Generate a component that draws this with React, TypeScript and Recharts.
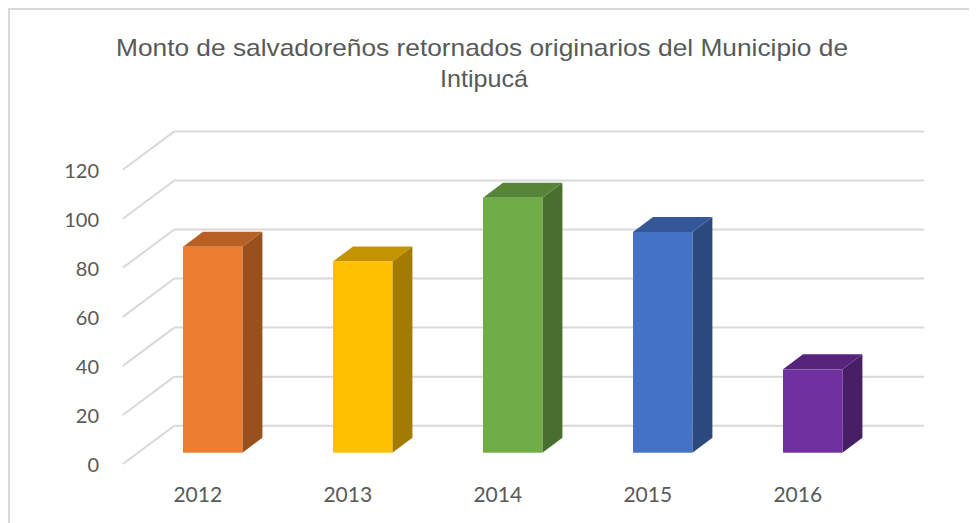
import React from 'react';
import { BarChart, Bar, XAxis, YAxis, CartesianGrid } from 'recharts';

const categories = ['2012', '2013', '2014', '2015', '2016'];
const values = [84, 78, 104, 90, 34];
const barColors = ['#ED7D31', '#FFC000', '#70AD47', '#4472C4', '#7030A0'];
const yTicks = [0, 20, 40, 60, 80, 100, 120];
const titleLines = ['Monto de salvadoreños retornados originarios del Municipio de', 'Intipucá'];

const data = categories.map((year, i) => ({ year, value: values[i], color: barColors[i] }));

const W = 969;
const H = 515;
// oblique depth offsets
const FRONT_DX = 15.2;
const FRONT_DY = 11.3;
const BACK_DX = 36.3;
const BACK_DY = 27;
const BAR_DX = 20;
const BAR_DY = 15;
const GRID = '#d9d9d9';
const TEXT = '#595959';

function shade(hex: string, f: number): string {
  const n = parseInt(hex.slice(1), 16);
  const r = Math.round(((n >> 16) & 255) * f);
  const g = Math.round(((n >> 8) & 255) * f);
  const b = Math.round((n & 255) * f);
  return `rgb(${r},${g},${b})`;
}

const Bar3D = (props: any) => {
  const { x, y, width, height, index } = props;
  const c = (props.payload && props.payload.color) || barColors[index] || '#888';
  const top = shade(c, 0.77);
  const side = shade(c, 0.64);
  const x2 = x + width;
  const yb = y + height;
  return (
    <g>
      <polygon points={`${x2},${y} ${x2 + BAR_DX},${y - BAR_DY} ${x2 + BAR_DX},${yb - BAR_DY} ${x2},${yb}`} fill={side} />
      <polygon points={`${x},${y} ${x + BAR_DX},${y - BAR_DY} ${x2 + BAR_DX},${y - BAR_DY} ${x2},${y}`} fill={top} />
      <rect x={x} y={y} width={width} height={height} fill={c} />
    </g>
  );
};

const GridLine = (props: any) => {
  const { x1, x2, y1 } = props;
  return (
    <g>
      <line x1={x1 + BACK_DX} y1={y1 - BACK_DY} x2={x2 + BACK_DX} y2={y1 - BACK_DY} stroke={GRID} strokeWidth={2} />
      <line x1={x1 - FRONT_DX} y1={y1 + FRONT_DY} x2={x1 + BACK_DX} y2={y1 - BACK_DY} stroke={GRID} strokeWidth={2} />
    </g>
  );
};

const YTick = (props: any) => {
  const { y, payload } = props;
  return (
    <text x={91} y={y + FRONT_DY} textAnchor="end" dominantBaseline="central" fontFamily="Lato" fontSize={20} fill={TEXT}>
      {payload.value}
    </text>
  );
};

const XTick = (props: any) => {
  const { x, payload } = props;
  return (
    <text x={x - FRONT_DX} y={485} textAnchor="middle" dominantBaseline="central" fontFamily="Lato" fontSize={21} fill={TEXT}>
      {payload.value}
    </text>
  );
};

export default function App() {
  return (
    <div style={{ position: 'relative', width: W, height: H }}>
      <BarChart width={W} height={H} data={data} margin={{ top: 150.4, right: 89, bottom: 0, left: 0 }}>
        <CartesianGrid vertical={false} horizontal={(p: any) => <GridLine {...p} />} />
        <XAxis dataKey="year" axisLine={false} tickLine={false} height={70.3} tick={<XTick />} interval={0} />
        <YAxis domain={[0, 120]} ticks={yTicks} width={130} axisLine={false} tickLine={false} tick={<YTick />} interval={0} />
        <Bar dataKey="value" barSize={59.4} shape={(p: any) => <Bar3D {...p} />} isAnimationActive={false} />
      </BarChart>
      <svg width={W} height={H} style={{ position: 'absolute', left: 0, top: 0, pointerEvents: 'none' }}>
        <text x={474} y={48} textAnchor="middle" fontFamily="Liberation Sans" fontSize={24} fill={TEXT} textLength={732} lengthAdjust="spacingAndGlyphs">
          {titleLines[0]}
        </text>
        <text x={476} y={79} textAnchor="middle" fontFamily="Liberation Sans" fontSize={24} fill={TEXT} textLength={88} lengthAdjust="spacingAndGlyphs">
          {titleLines[1]}
        </text>
      </svg>
      <div style={{ position: 'absolute', left: 0, top: 0, width: W, height: H, boxSizing: 'border-box', borderTop: `2px solid ${GRID}`, borderLeft: `2px solid ${GRID}`, pointerEvents: 'none' }} />
    </div>
  );
}
